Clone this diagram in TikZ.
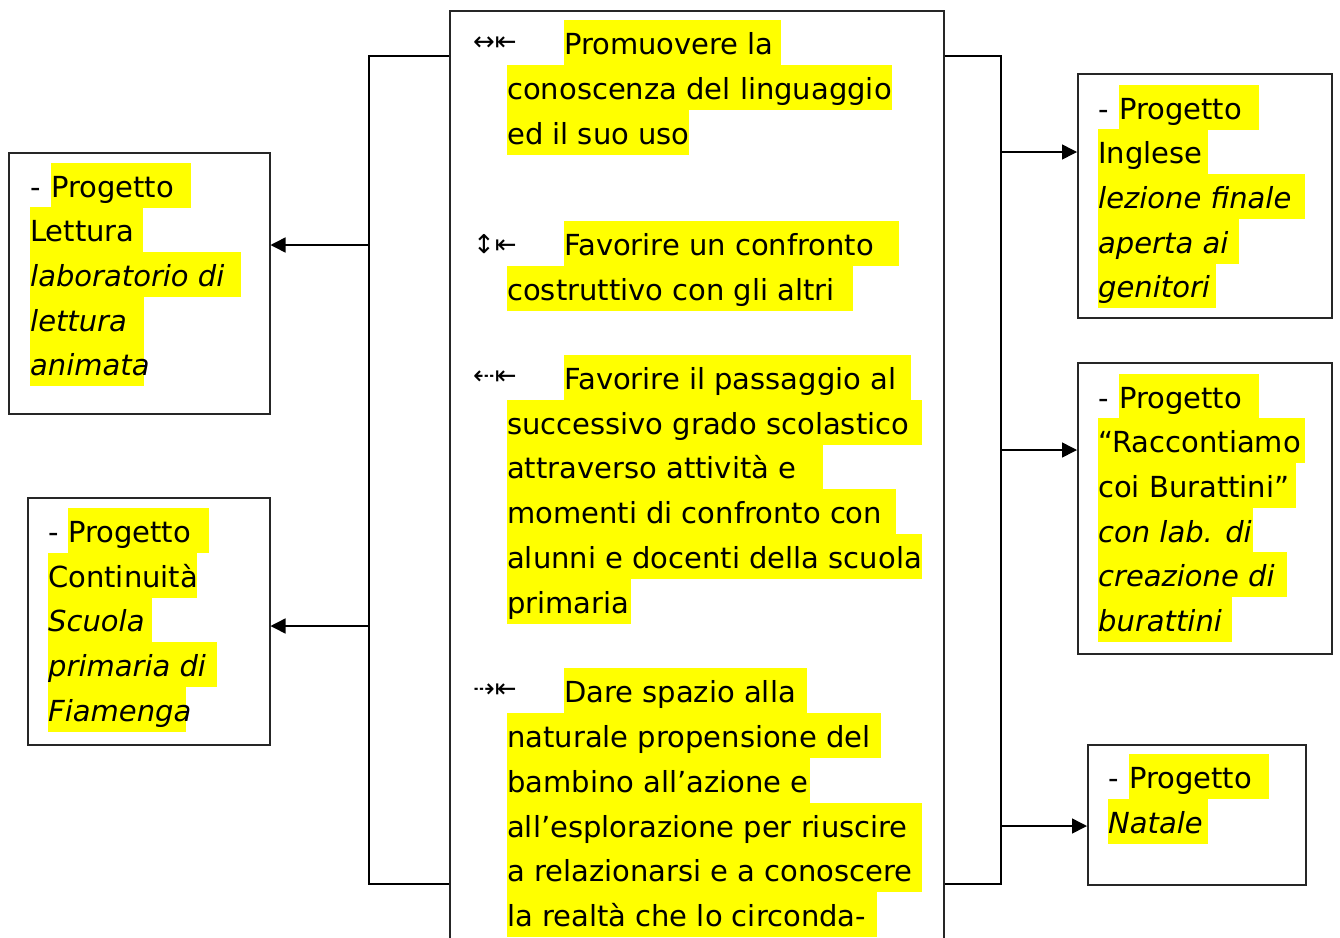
\documentclass[tikz,border=0pt]{standalone}
\usepackage{fontspec}
\setmainfont{DejaVu Sans}
\usetikzlibrary{arrows.meta,positioning}
\definecolor{hly}{RGB}{255,255,0}
\tikzset{
	box/.style={draw=black!85,line width=1.5pt,anchor=north west,inner sep=0},
	hl/.style={fill=hly,anchor=north west,inner sep=0,text height=34pt,text depth=11pt,font=\fontsize{29}{34}\selectfont},
	plain/.style={anchor=north west,inner sep=0,text height=34pt,text depth=11pt,font=\fontsize{29}{34}\selectfont},
	bulletmark/.style={anchor=west,inner sep=0,font=\fontsize{26}{30}\selectfont},
	link/.style={line width=1.5pt},
	arr/.style={line width=1.5pt,-{Triangle[length=15pt,width=15pt]}}
}
\begin{document}
\begin{tikzpicture}[x=1pt,y=-1pt]
	\useasboundingbox (0,0) rectangle (1340,937);
	% riquadri
	\node[box,minimum width=494,minimum height=1000] (C) at (449,10) {};
	\node[box,minimum width=261,minimum height=261] (L1) at (8,152) {};
	\node[box,minimum width=242,minimum height=247] (L2) at (27,497) {};
	\node[box,minimum width=254,minimum height=244] (R1) at (1077,73) {};
	\node[box,minimum width=254,minimum height=291] (R2) at (1077,362) {};
	\node[box,minimum width=218,minimum height=140] (R3) at (1087,744) {};
	\path
	(369,56) coordinate (LT)
	(369,884) coordinate (LB)
	(1001,56) coordinate (RT)
	(1001,884) coordinate (RB);
	\draw[link] (C.west|-LT)--(LT)--(LB)--(C.west|-LB) (C.east|-RT)--(RT)--(RB)--(C.east|-RB);
	\foreach \a/\b/\s/\y in {LT/L1/east/245,LT/L2/east/626,RT/R1/west/152,RT/R2/west/450,RT/R3/west/826} \draw[arr] (\a|-0,\y)--(\b.\s|-0,\y);
	% testo evidenziato
	\foreach \x/\y/\w/\t [count=\i] in {
		564/20/217/Promuovere la,507/65/385/conoscenza del linguaggio,507/110/182/ed il suo uso,
		564/221/335/Favorire un confronto,507/266/346/costruttivo con gli altri,
		564/355/347/Favorire il passaggio al,507/400/415/successivo grado scolastico,507/444/316/attraverso attività e,
		507/489/389/momenti di confronto con,507/534/415/alunni e docenti della scuola,507/579/124/primaria,
		564/668/243/Dare spazio alla,507/713/374/naturale propensione del,507/758/303/bambino all’azione e,
		507/803/415/all’esplorazione per riuscire,507/847/415/a relazionarsi e a conoscere,507/892/370/la realtà che lo circonda-,
		51/163/140/Progetto,30/207/113/Lettura,30/252/211/{\itshape laboratorio di},30/297/114/{\itshape lettura},30/341/114/{\itshape animata},
		68/508/141/Progetto,48/553/149/Continuità,48/597/104/{\itshape Scuola},48/642/169/{\itshape primaria di},48/687/138/{\itshape Fiamenga},
		1119/85/140/Progetto,1098/129/110/Inglese,1098/174/207/{\itshape lezione finale},1098/219/141/{\itshape aperta ai},1098/263/118/{\itshape genitori},
		1119/374/140/Progetto,1098/418/207/“Raccontiamo,1098/463/198/coi Burattini”,1098/508/155/{\itshape con lab. di},1098/552/189/{\itshape creazione di},1098/597/134/{\itshape burattini},
		1129/754/140/Progetto,1108/799/100/{\itshape Natale}}
		\node[hl,minimum width=\w] (t\i) at (\x,\y) {\makebox[\w pt][l]{\t}};
	\foreach \x/\y [count=\i] in {30/163,48/508,1098/85,1098/374,1108/754} \node[plain] (d\i) at (\x,\y) {-};
	\foreach \y/\m [count=\i] in {44/↔⇤,244/↕⇤,378/⇠⇤,691/⇢⇤} \node[bulletmark] (b\i) at (473,\y) {\m};
\end{tikzpicture}
\end{document}
